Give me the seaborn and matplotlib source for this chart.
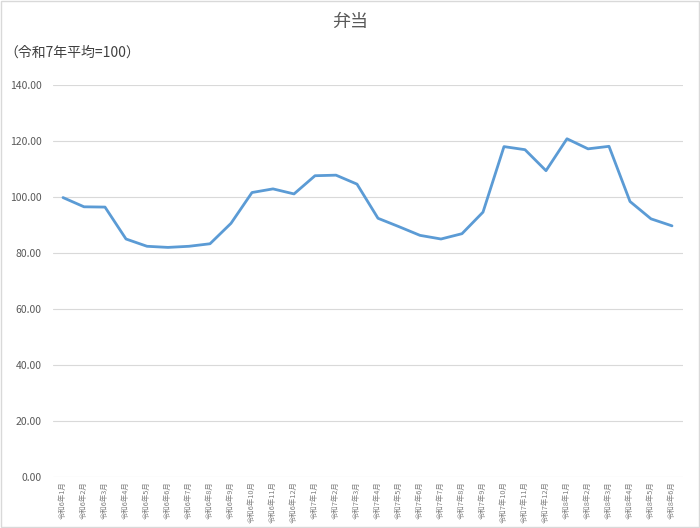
import matplotlib
matplotlib.use("Agg")
import matplotlib.pyplot as plt
import seaborn as sns
import pandas as pd
import numpy as np

sns.set_style("white")
plt.rcParams['font.family'] = ['Noto Sans CJK JP', 'DejaVu Sans']

months = (["令和6年%d月" % m for m in range(1, 13)]
          + ["令和7年%d月" % m for m in range(1, 13)]
          + ["令和8年%d月" % m for m in range(1, 7)])
values = [99.8, 96.5, 96.4, 85.0, 82.4, 82.0, 82.4, 83.3, 90.6, 101.6,
          102.9, 101.1, 107.6, 107.8, 104.6, 92.4, 89.4, 86.3, 85.0, 86.9,
          94.6, 118.0, 116.9, 109.4, 120.8, 117.2, 118.1, 98.4, 92.2, 89.7]
yticks = [0, 20, 40, 60, 80, 100, 120, 140]

df = pd.DataFrame({"idx": np.arange(len(months)), "label": months, "value": values})

fig = plt.figure(figsize=(7, 5.28), dpi=100)
ax = fig.add_axes([0.075, 0.0966, 0.9, 0.7424])
sns.lineplot(data=df, x="idx", y="value", ax=ax, color="#5B9BD5", linewidth=2.0)

ax.set_xlim(-0.5, len(months) - 0.5)
ax.set_ylim(0, 140)
ax.set_yticks(yticks)
ax.set_yticklabels(["%.2f" % v for v in yticks], fontsize=7.5, color="#595959")
ax.set_xticks(df["idx"])
ax.set_xticklabels(months, rotation=90, fontsize=5.3, color="#808080")
ax.tick_params(axis="x", length=0, pad=3)
ax.tick_params(axis="y", length=0, pad=8)
ax.grid(axis="y", color="#d9d9d9", linewidth=0.8)
for s in ax.spines.values():
    s.set_visible(False)
ax.set_xlabel("")
ax.set_ylabel("")

fig.text(0.5, 1 - 22 / 528, "弁当", ha="center", va="center", fontsize=13, color="#595959")
fig.text(4 / 700, 1 - 53 / 528, "（令和7年平均=100）", ha="left", va="center", fontsize=10, color="#404040")

border = plt.Rectangle((0.001, 0.001), 0.998, 0.998, transform=fig.transFigure,
                       fill=False, edgecolor="#d9d9d9", linewidth=1)
fig.patches.append(border)

fig.savefig("out.png", dpi=100)
